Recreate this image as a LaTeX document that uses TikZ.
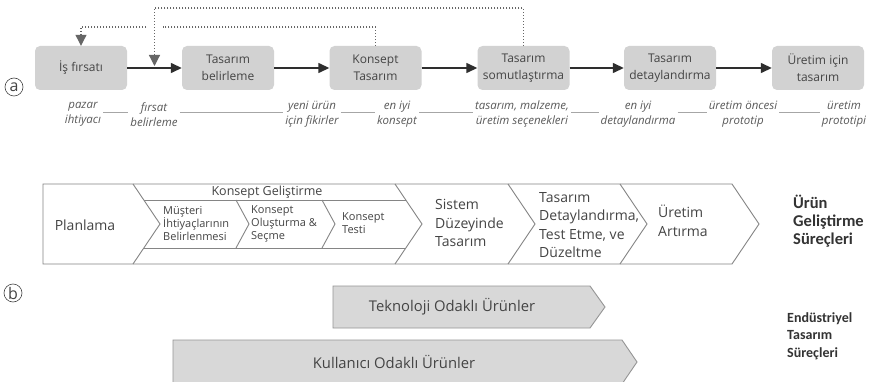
\documentclass[tikz,border=0pt]{standalone}
\usepackage{fontspec}
\setmainfont{Open Sans}
\newfontfamily\carl{Carlito}
\usetikzlibrary{arrows.meta,calc}

\definecolor{txt}{HTML}{444444}
\definecolor{boxfill}{HTML}{D2D2D2}
\definecolor{arr}{HTML}{2E2E2E}
\definecolor{dotc}{HTML}{666666}
\definecolor{lbl}{HTML}{5A5A5A}
\definecolor{chev}{HTML}{858585}
\definecolor{bfill}{HTML}{D8D8D8}
\definecolor{bdraw}{HTML}{959595}

\begin{document}
\begin{tikzpicture}[x=1pt,y=-1pt,
  procbox/.style={fill=boxfill, rounded corners=5pt, minimum width=92pt, minimum height=44pt,
    inner sep=0pt, align=center, text=txt, font=\fontsize{12}{17}\selectfont},
  flow/.style={draw=arr, line width=1.4pt, -{Triangle[length=11pt,width=10pt]}},
  fbline/.style={draw=dotc, line width=1.2pt, dash pattern=on 1pt off 2pt},
  fbarrow/.style={fbline, -{Triangle[length=11pt,width=11pt]}},
  lab/.style={font=\fontsize{11.5}{15}\selectfont\itshape, text=lbl, align=center, inner sep=2pt},
  labline/.style={draw=black!35, line width=0.6pt},
  chevline/.style={draw=chev, line width=0.9pt},
  ctxtL/.style={font=\fontsize{14}{18.5}\selectfont, text=txt, align=left, inner sep=0pt},
  ctxtS/.style={font=\fontsize{11}{13}\selectfont, text=txt, align=left, inner sep=0pt},
  barrow/.style={fill=bfill, draw=bdraw, line width=0.9pt},
  btext/.style={font=\fontsize{14.8}{17}\selectfont, text=txt, inner sep=0pt},
  sidelab/.style={font=\carl\bfseries\fontsize{16.5}{18}\selectfont, text=black!80, align=left, inner sep=0pt},
  circ/.style={circle, draw=txt, line width=0.6pt, inner sep=0pt, minimum size=18pt,
    text=txt, font=\fontsize{16}{16}\selectfont}
]
\useasboundingbox (0,0) rectangle (875,382);
\fill[white] (0,0) rectangle (875,382);

% ---------- (a) ----------
\node[circ] (ca) at (14,87) {a};

\node[procbox] (b1) at (81,68)    {İş fırsatı};
\node[procbox] (b2) at (228,68)   {Tasarım\\belirleme};
\node[procbox] (b3) at (375.5,68) {Konsept\\Tasarım};
\node[procbox] (b4) at (523.5,68) {Tasarım\\somutlaştırma};
\node[procbox] (b5) at (670,68)   {Tasarım\\detaylandırma};
\node[procbox] (b6) at (818,68)   {Üretim için\\tasarım};

\draw[flow] (b1) -- (b2);
\draw[flow] (b2) -- (b3);
\draw[flow] (b3) -- (b4);
\draw[flow] (b4) -- (b5);
\draw[flow] (b5) -- (b6);

% feedback loops
\coordinate (d1a) at (375.5,27);
\coordinate (d1b) at (163,27);
\coordinate (d1c) at (146,27);
\coordinate (d1d) at (81,27);
\draw[fbline] (b3.north) -- (d1a) -- (d1b);
\draw[fbarrow] (d1c) -- (d1d) -- (b1.north);

\coordinate (d2a) at (523.5,8);
\coordinate (d2b) at (154.5,8);
\coordinate (d2c) at (154.5,66);
\draw[fbarrow] (b4.north) -- (d2a) -- (d2b) -- (d2c);

% outputs
\node[lab] (l1) at (83,114.5)  {pazar\\ihtiyacı};
\node[lab] (l2) at (154,114.5) {fırsat\\belirleme};
\node[lab] (l3) at (312,114.5) {yeni ürün\\için fikirler};
\node[lab] (l4) at (397,114.5) {en iyi\\konsept};
\node[lab] (l5) at (522,114.5) {tasarım, malzeme,\\üretim seçenekleri};
\node[lab] (l6) at (638,114.5) {en iyi\\detaylandırma};
\node[lab] (l7) at (743,114.5) {üretim öncesi\\prototip};
\node[lab] (l8) at (844,114.5) {üretim\\prototipi};

\coordinate (ly) at (0,112);
\draw[labline] (l1.east |- ly) -- (l2.west |- ly);
\draw[labline] (l2.east |- ly) -- (l3.west |- ly);
\draw[labline] (l3.east |- ly) -- (l4.west |- ly);
\draw[labline] (l4.east |- ly) -- (l5.west |- ly);
\draw[labline] (l5.east |- ly) -- (l6.west |- ly);
\draw[labline] (l6.east |- ly) -- (l7.west |- ly);
\draw[labline] (l7.east |- ly) -- (l8.west |- ly);

% ---------- (b) ----------
\node[circ] (cb) at (13,293) {b};

% product development chevrons
\draw[chevline] (43,184) -- (732,184) -- (759,224) -- (732,264) -- (43,264) -- cycle;
\foreach \c in {133,395,508,620}
  \draw[chevline] (\c,184) -- (\c+27,224) -- (\c,264);
\draw[chevline] (143.8,200) -- (405.8,200);
\draw[chevline] (143.8,248) -- (405.8,248);
\foreach \c in {236,322}
  \draw[chevline] (\c,200) -- (\c+13,224) -- (\c,248);

\node[ctxtL] (plan) at (85,225) {Planlama};
\node[font=\fontsize{12.5}{15}\selectfont, text=txt, inner sep=0pt] (kg) at (267,192) {Konsept Geliştirme};
\node[ctxtS, anchor=west] (mus) at (163,224) {Müşteri\\İhtiyaçlarının\\Belirlenmesi};
\node[ctxtS, anchor=west] (kos) at (251,224) {Konsept\\Oluşturma \&\\Seçme};
\node[ctxtS, anchor=west] (kt)  at (342,223) {Konsept\\Testi};
\node[ctxtL, anchor=west] (sis) at (435,223) {Sistem\\Düzeyinde\\Tasarım};
\node[ctxtL, anchor=west] (tdt) at (539,225) {Tasarım\\Detaylandırma,\\Test Etme, ve\\Düzeltme};
\node[ctxtL, anchor=west] (ua)  at (658,221) {Üretim\\Artırma};

\node[sidelab, anchor=west] (ugs) at (793,221) {Ürün\\Geliştirme\\Süreçleri};

% industrial design arrows
\draw[barrow] (333,286) -- (590,286) -- (605,307) -- (590,328) -- (333,328) -- cycle;
\node[btext] (tek) at (452,307) {Teknoloji Odaklı Ürünler};
\draw[barrow] (173,340) -- (622,340) -- (637,362) -- (622,384) -- (173,384) -- cycle;
\node[btext] (kul) at (394,362) {Kullanıcı Odaklı Ürünler};

\node[sidelab, font=\carl\bfseries\fontsize{14}{17.5}\selectfont, anchor=west] (ets) at (787,336) {Endüstriyel\\Tasarım\\Süreçleri};
\end{tikzpicture}
\end{document}
